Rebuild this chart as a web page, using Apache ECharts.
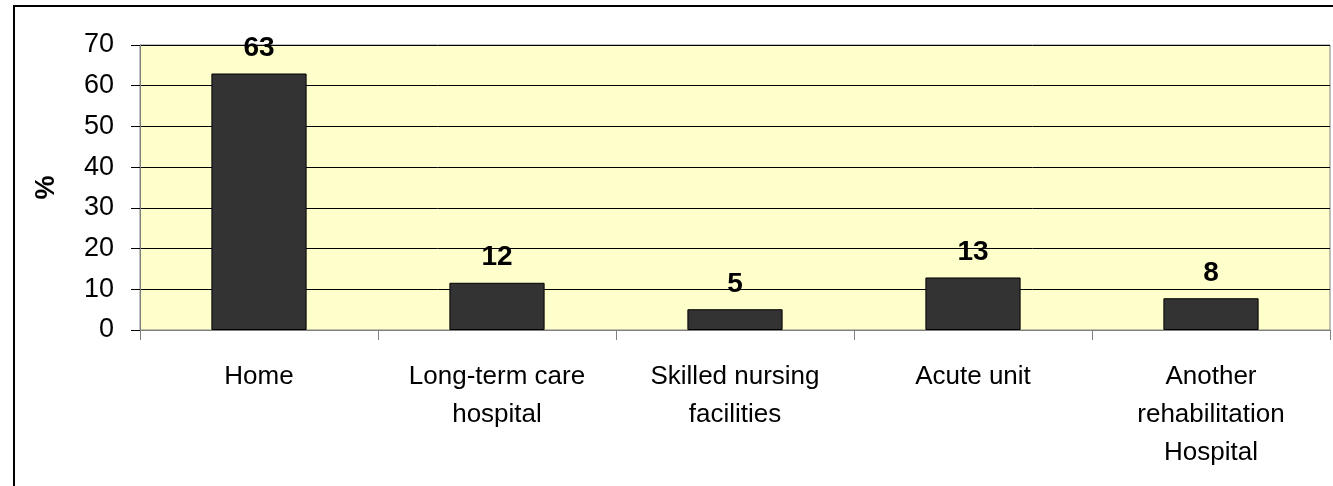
<!DOCTYPE html>
<html>
<head>
<meta charset="utf-8">
<script src="https://cdn.jsdelivr.net/npm/echarts@6/dist/echarts.min.js"></script>
<style>
  html, body { margin: 0; padding: 0; background: #fff; }
  #chart { width: 1333px; height: 486px; }
</style>
</head>
<body>
<div id="chart"></div>
<script>
  const categories = [
    "Home",
    "Long-term care\nhospital",
    "Skilled nursing\nfacilities",
    "Acute unit",
    "Another\nrehabilitation\nHospital",
  ];
  const values = [63, 11.6, 5.1, 12.9, 7.8];
  const yTicks = { min: 0, max: 70, interval: 10 };

  var dom = document.getElementById("chart");
  var myChart = echarts.init(dom, null, { renderer: "canvas" });

  var font = "Liberation Sans, Arial, sans-serif";

  var option = {
    animation: false,
    textStyle: { fontFamily: font },
    graphic: [
      {
        // outer chart frame, only top and left edges fall inside the picture
        type: "rect",
        shape: { x: 14, y: 6, width: 1400, height: 600 },
        style: { fill: "none", stroke: "#000", lineWidth: 2 },
        silent: true,
        z: 0,
      },
    ],
    grid: {
      left: 140,
      right: 3,
      top: 45,
      bottom: 156,
      show: true,
      backgroundColor: "#FFFFCC",
      borderColor: "#808080",
      borderWidth: 1,
    },
    xAxis: {
      type: "category",
      data: categories,
      axisLine: { lineStyle: { color: "#808080", width: 1 } },
      axisTick: {
        show: true,
        length: 10,
        lineStyle: { color: "#808080" },
      },
      axisLabel: {
        interval: 0,
        color: "#000",
        fontSize: 26,
        lineHeight: 38,
        margin: 28,
        fontFamily: font,
      },
      splitLine: { show: false },
    },
    yAxis: {
      type: "value",
      min: yTicks.min,
      max: yTicks.max,
      interval: yTicks.interval,
      name: "%",
      nameLocation: "middle",
      nameGap: 80,
      nameRotate: 90,
      nameTextStyle: {
        color: "#000",
        fontSize: 27,
        fontWeight: "bold",
        fontFamily: font,
      },
      axisLine: { show: true, lineStyle: { color: "#808080", width: 1 } },
      axisTick: { show: true, length: 9, lineStyle: { color: "#000" } },
      axisLabel: {
        color: "#000",
        fontSize: 27,
        margin: 26,
        fontFamily: font,
      },
      splitLine: { show: true, lineStyle: { color: "#000", width: 1 } },
    },
    series: [
      {
        type: "bar",
        data: values,
        barWidth: "40%",
        itemStyle: { color: "#333333", borderColor: "#000", borderWidth: 1 },
        label: {
          show: true,
          position: "top",
          distance: 11,
          color: "#000",
          fontSize: 28,
          fontWeight: "bold",
          fontFamily: font,
          formatter: function (params) {
            return Math.round(params.value);
          },
        },
      },
    ],
  };

  myChart.setOption(option);
  window.addEventListener("resize", myChart.resize);
</script>
</body>
</html>
